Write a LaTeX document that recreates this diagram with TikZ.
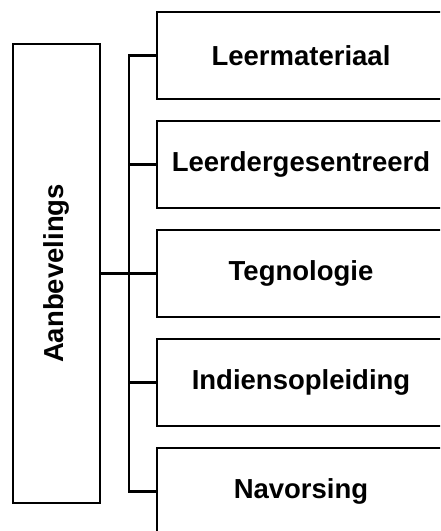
\documentclass[tikz,border=0pt]{standalone}
\usepackage{fontspec}
\setmainfont{Liberation Sans}
\usepackage{graphicx}
\usetikzlibrary{positioning}

\begin{document}
\begin{tikzpicture}[
  side/.style={draw,line width=2.2pt,minimum width=87pt,minimum height=459pt,inner sep=0pt,outer sep=0pt,font=\bfseries\fontsize{27.5}{33}\selectfont},
  item/.style={draw,line width=2.2pt,minimum width=288pt,minimum height=87pt,inner sep=0pt,outer sep=0pt,font=\bfseries\fontsize{27.5}{33}\selectfont},
  link/.style={line width=2.2pt},
  stem/.style={line width=2.9pt},
  node distance=22pt
]
\clip (0,0) rectangle (440pt,-531pt);
\node[side] (aanb) at (56.5pt,-273.5pt) {\rotatebox{90}{Aanbevelings}};
\node[item,right=57pt of aanb] (tegn) {Tegnologie};
\node[item,above=of tegn] (leerder) {Leerdergesentreerd};
\node[item,above=of leerder] (leermat) {Leermateriaal};
\node[item,below=of tegn] (indiens) {Indiensopleiding};
\node[item,below=of indiens] (navors) {Navorsing};
\coordinate[right=29pt of aanb] (hub);
\draw[stem] (aanb) -- (hub);
\draw[link] (leermat.west) -| (hub) |- (navors.west);
\foreach \n in {leerder,tegn,indiens}
  \draw[link] (\n.west) -- (\n.west -| hub);
\end{tikzpicture}
\end{document}
